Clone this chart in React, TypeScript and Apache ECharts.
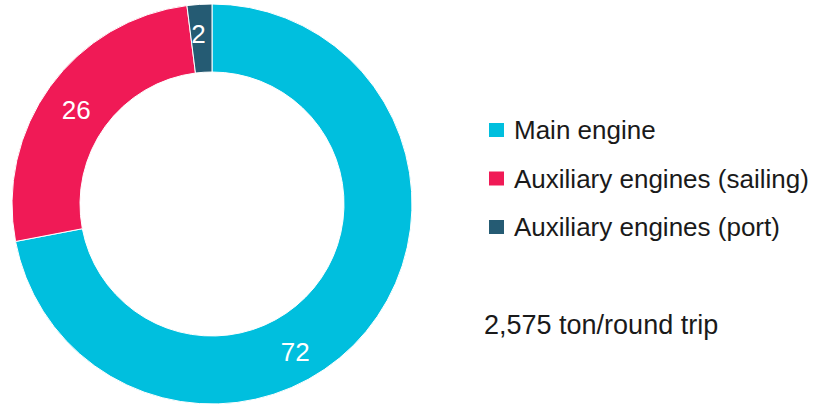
import React, { useEffect, useRef } from "react";
import * as echarts from "echarts";

const categories = ["Main engine", "Auxiliary engines (sailing)", "Auxiliary engines (port)"];
const values = [72, 26, 2];
const colors = ["#00BFDE", "#F01A56", "#255B73"];
const totalNote = "2,575 ton/round trip";

const FONT = "Liberation Sans, Arial, Helvetica, sans-serif";

export default function App() {
  const ref = useRef<HTMLDivElement>(null);
  useEffect(() => {
    const chart = echarts.init(ref.current!, undefined, { renderer: "svg" });
    chart.setOption({
      animation: false,
      color: colors,
      legend: {
        orient: "vertical",
        left: 482,
        top: 112,
        padding: 5,
        itemWidth: 17,
        itemHeight: 16,
        itemGap: 22.5,
        icon: "rect",
        data: categories,
        textStyle: {
          fontFamily: FONT,
          fontSize: 26,
          lineHeight: 26,
          color: "#1a1a1a",
          padding: [0, 0, 0, 4],
        },
      },
      title: {
        text: totalNote,
        left: 479,
        top: 306,
        textStyle: {
          fontFamily: FONT,
          fontSize: 27,
          lineHeight: 28,
          fontWeight: "normal",
          color: "#1a1a1a",
        },
      },
      series: [
        {
          type: "pie",
          center: [212, 204],
          radius: [132, 200],
          startAngle: 90,
          clockwise: true,
          itemStyle: { borderColor: "#ffffff", borderWidth: 1 },
          label: {
            show: true,
            position: "inside",
            formatter: "{c}",
            color: "#ffffff",
            fontSize: 26,
            fontFamily: FONT,
          },
          labelLine: { show: false },
          data: categories.map((name, i) => ({
            name,
            value: values[i],
            label: i === 0 ? { offset: [-47, 40] } : i === 1 ? { offset: [1, 5] } : { offset: [-3, -1] },
          })),
        },
      ],
    });
    return () => chart.dispose();
  }, []);
  return (
    <div
      ref={ref}
      style={{ position: "fixed", left: 0, top: 0, width: 827, height: 406, background: "#fff" }}
    />
  );
}
